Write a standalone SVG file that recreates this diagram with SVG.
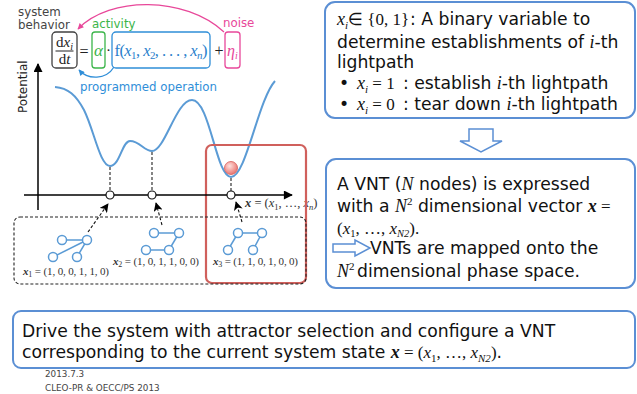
<svg xmlns="http://www.w3.org/2000/svg" width="637" height="394" viewBox="0 0 637 394">
  <style>
    .sans { font-family: "DejaVu Sans", Verdana, sans-serif; }
    .t { font-family: "DejaVu Sans", Verdana, sans-serif; font-size: 17.2px; fill: #111; }
    .lbl { font-family: "DejaVu Sans", Verdana, sans-serif; font-size: 11.8px; }
    .serif { font-family: "Liberation Serif", "Times New Roman", serif; }
    .mi { font-family: "Liberation Serif", "Times New Roman", serif; font-style: italic; }
    .mb { font-family: "Liberation Serif", "Times New Roman", serif; font-style: italic; font-weight: bold; }
    .m { font-family: "Liberation Serif", "Times New Roman", serif; }
    .box { fill: #fff; stroke: #5b8fd4; stroke-width: 2; }
    .hollow { fill: #fff; stroke: #5b8fd4; stroke-width: 1.5; stroke-linejoin: miter; }
    .curve { fill: none; stroke: #5b9bd5; stroke-width: 2; }
    .drop { stroke: #222; stroke-width: 1.1; stroke-dasharray: 3 2; fill: none; }
    .dash-arrow { stroke: #111; stroke-width: 1.1; stroke-dasharray: 3 2; fill: none; }
    .pt { fill: #fff; stroke: #111; stroke-width: 1.2; }
    .gnode { fill: #fff; stroke: #5b9bd5; stroke-width: 1.5; }
    .gedge { stroke: #5b9bd5; stroke-width: 1.5; }
    .vec { font-family: "Liberation Serif", "Times New Roman", serif; font-size: 11px; fill: #333; }
  </style>
  <defs>
    <marker id="ah-black" viewBox="0 0 10 10" refX="9" refY="5" markerWidth="10" markerHeight="9" markerUnits="userSpaceOnUse" orient="auto">
      <path d="M0,0 L10,5 L0,10 L2.5,5 Z" fill="#000"/>
    </marker>
    <marker id="ah-axis" viewBox="0 0 10 10" refX="9" refY="5" markerWidth="11" markerHeight="9" markerUnits="userSpaceOnUse" orient="auto">
      <path d="M0,0 L10,5 L0,10 Z" fill="#000"/>
    </marker>
    <marker id="ah-pink" viewBox="0 0 10 10" refX="9" refY="5" markerWidth="7" markerHeight="6" markerUnits="userSpaceOnUse" orient="auto">
      <path d="M0,0 L10,5 L0,10 Z" fill="#e8489a"/>
    </marker>
    <marker id="ah-blue" viewBox="0 0 10 10" refX="9" refY="5" markerWidth="7" markerHeight="6" markerUnits="userSpaceOnUse" orient="auto">
      <path d="M0,0 L10,5 L0,10 Z" fill="#2f8ed8"/>
    </marker>
    <radialGradient id="ball" cx="0.4" cy="0.35" r="0.7">
      <stop offset="0" stop-color="#fde0de"/>
      <stop offset="0.6" stop-color="#f29a96"/>
      <stop offset="1" stop-color="#e2706c"/>
    </radialGradient>
  </defs>

  <rect width="637" height="394" fill="#fff"/>

  <!-- equation of system behaviour -->
  <g id="equation">
    <text class="lbl" x="18" y="16" fill="#444">system</text>
    <text class="lbl" x="18" y="28.5" fill="#444">behavior</text>
    <text class="lbl" x="92" y="28" fill="#3bb54a">activity</text>
    <text class="lbl" x="223" y="27" fill="#e8489a">noise</text>

    <rect x="52" y="32" width="25" height="36" rx="4" fill="none" stroke="#404040" stroke-width="1.3"/>
    <text class="m" x="64.5" y="47" font-size="15" text-anchor="middle" fill="#222">d<tspan class="mi">x</tspan><tspan class="mi" font-size="10" dy="3">i</tspan></text>
    <line x1="55.5" y1="51" x2="73.5" y2="51" stroke="#222" stroke-width="1"/>
    <text class="m" x="64.5" y="64" font-size="15" text-anchor="middle" fill="#222">d<tspan class="mi">t</tspan></text>

    <text class="m" x="84" y="57" font-size="16" text-anchor="middle" fill="#222">=</text>

    <rect x="92" y="32" width="13" height="36" rx="3" fill="none" stroke="#3bb54a" stroke-width="1.3"/>
    <text class="mi" x="98.5" y="56" font-size="17" text-anchor="middle" fill="#3bb54a">α</text>

    <text class="m" x="108.5" y="55" font-size="15" text-anchor="middle" fill="#222">·</text>

    <rect x="112" y="32" width="98" height="36" rx="4" fill="none" stroke="#2f8ed8" stroke-width="1.3"/>
    <text class="m" x="114.5" y="56" font-size="16.5" fill="#2a80cc" textLength="93" lengthAdjust="spacing">f(<tspan class="mi">x</tspan><tspan font-size="11" dy="3">1</tspan><tspan dy="-3">, </tspan><tspan class="mi">x</tspan><tspan font-size="11" dy="3">2</tspan><tspan dy="-3">, . . . , </tspan><tspan class="mi">x</tspan><tspan class="mi" font-size="11" dy="3">n</tspan><tspan dy="-3">)</tspan></text>

    <text class="m" x="219" y="56" font-size="16" text-anchor="middle" fill="#222">+</text>

    <rect x="225" y="32" width="15" height="36" rx="3" fill="none" stroke="#e8489a" stroke-width="1.3"/>
    <text class="mi" x="227" y="56" font-size="16" fill="#e8489a">η<tspan font-size="10" dy="3">i</tspan></text>

    <text class="lbl" x="80" y="91" fill="#2f8ed8">programmed operation</text>
  </g>

  <!-- potential landscape -->
  <g id="landscape">
    <text class="sans" font-size="12" fill="#222" transform="translate(26.5,113) rotate(-90)">Potential</text>
    <path d="M55,87 C68,88 76,95 84,110 C94,130 100,166 110,166 C120,166 122,141 130,141 C140,141 144,151 152,151 C165,151 176,100 192,100 C210,100 216,177 231,177 C246,177 258,100 275,81" class="curve"/>
    <line x1="110" y1="167" x2="110" y2="191" class="drop"/>
    <line x1="152" y1="152" x2="152" y2="191" class="drop"/>
    <line x1="231" y1="178" x2="231" y2="191" class="drop"/>
    <circle cx="231" cy="168" r="6.5" fill="url(#ball)" stroke="#d65c58" stroke-width="0.8"/>
    <text class="serif" x="245" y="207" font-size="12.5" fill="#333"><tspan class="mb">x</tspan> = (<tspan class="mi">x</tspan><tspan font-size="8.5" dy="2.5">1</tspan><tspan dy="-2.5">, …, </tspan><tspan class="mi">x</tspan><tspan class="mi" font-size="8.5" dy="2.5">n</tspan><tspan dy="-2.5">)</tspan></text>
  </g>

  <!-- selected attractor frame -->
  <g id="attractor-frame">
    <rect x="206" y="145" width="100" height="138" rx="6" fill="none" stroke="#d0605c" stroke-width="2.2"/>
  </g>

  <!-- network topologies -->
  <g id="topologies">
    <rect x="14" y="217" width="292" height="67" rx="6" fill="none" stroke="#222" stroke-width="1.1" stroke-dasharray="3 2"/>
  </g>

  <g id="vnt1">
    <line class="gedge" x1="62" y1="240" x2="87" y2="240"/>
    <line class="gedge" x1="87" y1="240" x2="53" y2="257"/>
    <line class="gedge" x1="87" y1="240" x2="77" y2="257"/>
    <circle class="gnode" cx="62" cy="240" r="4.5"/>
    <circle class="gnode" cx="87" cy="240" r="4.5"/>
    <circle class="gnode" cx="53" cy="257" r="4.5"/>
    <circle class="gnode" cx="77" cy="257" r="4.5"/>
    <text class="vec" x="23" y="275" textLength="86" lengthAdjust="spacing"><tspan class="mb">x</tspan><tspan font-size="8" dy="2">1</tspan><tspan dy="-2"> = (1, 0, 0, 1, 1, 0)</tspan></text>
  </g>

  <g id="vnt2">
    <line class="gedge" x1="154" y1="233" x2="179" y2="233"/>
    <line class="gedge" x1="179" y1="233" x2="169" y2="250"/>
    <line class="gedge" x1="146" y1="250" x2="169" y2="250"/>
    <circle class="gnode" cx="154" cy="233" r="4.5"/>
    <circle class="gnode" cx="179" cy="233" r="4.5"/>
    <circle class="gnode" cx="146" cy="250" r="4.5"/>
    <circle class="gnode" cx="169" cy="250" r="4.5"/>
    <text class="vec" x="113" y="265" textLength="86" lengthAdjust="spacing"><tspan class="mb">x</tspan><tspan font-size="8" dy="2">2</tspan><tspan dy="-2"> = (1, 0, 1, 1, 0, 0)</tspan></text>
  </g>

  <g id="vnt3">
    <line class="gedge" x1="238" y1="233" x2="262" y2="233"/>
    <line class="gedge" x1="238" y1="233" x2="228" y2="250"/>
    <line class="gedge" x1="262" y1="233" x2="253" y2="250"/>
    <circle class="gnode" cx="238" cy="233" r="4.5"/>
    <circle class="gnode" cx="262" cy="233" r="4.5"/>
    <circle class="gnode" cx="228" cy="250" r="4.5"/>
    <circle class="gnode" cx="253" cy="250" r="4.5"/>
    <text class="vec" x="213" y="265" textLength="85" lengthAdjust="spacing"><tspan class="mb">x</tspan><tspan font-size="8" dy="2">3</tspan><tspan dy="-2"> = (1, 1, 0, 1, 0, 0)</tspan></text>
  </g>

  <!-- binary variable definition -->
  <g id="definition">
    <rect class="box" x="325" y="2" width="310" height="116" rx="10"/>
    <text class="t" x="337" y="25"><tspan class="mi" font-size="18">x</tspan><tspan class="mi" font-size="11" dy="4">i</tspan><tspan dy="-4">∈</tspan><tspan class="m" font-size="17"> {0, 1}</tspan></text>
    <text class="t" x="410" y="25">: A binary variable to</text>
    <text class="t" x="337" y="48">determine establishments of <tspan class="mi" font-size="18">i</tspan>-th</text>
    <text class="t" x="337" y="68">lightpath</text>
    <text class="t" x="339" y="89">•</text>
    <text class="t" x="357" y="89"><tspan class="mi" font-size="18">x</tspan><tspan class="mi" font-size="11" dy="4">i</tspan><tspan class="m" font-size="17" dy="-4"> = 1</tspan></text>
    <text class="t" x="403" y="89">: establish <tspan class="mi" font-size="18">i</tspan>-th lightpath</text>
    <text class="t" x="339" y="110">•</text>
    <text class="t" x="357" y="110"><tspan class="mi" font-size="18">x</tspan><tspan class="mi" font-size="11" dy="4">i</tspan><tspan class="m" font-size="17" dy="-4"> = 0</tspan></text>
    <text class="t" x="403" y="110">: tear down <tspan class="mi" font-size="18">i</tspan>-th lightpath</text>
  </g>

  <!-- phase space mapping -->
  <g id="mapping">
    <rect class="box" x="326" y="159" width="309" height="129" rx="10"/>
    <text class="t" x="337" y="190">A VNT (<tspan class="mi" font-size="18">N</tspan> nodes) is expressed</text>
    <text class="t" x="337" y="212">with a <tspan class="mi" font-size="18">N</tspan><tspan class="m" font-size="11" dy="-7">2</tspan><tspan dy="7"> dimensional vector </tspan><tspan class="mb" font-size="18">x</tspan><tspan class="m" font-size="17"> =</tspan></text>
    <text class="m" x="337" y="234" font-size="17" fill="#111">(<tspan class="mi">x</tspan><tspan font-size="10.5" dy="3">1</tspan><tspan dy="-3">, …, </tspan><tspan class="mi">x</tspan><tspan class="mi" font-size="10.5" dy="3">N2</tspan><tspan dy="-3">).</tspan></text>
    <polygon class="hollow" points="333,244 355,244 355,240 370,248 355,256 355,252 333,252"/>
    <text class="t" x="370" y="254">VNTs are mapped onto the</text>
    <text class="t" x="337" y="277"><tspan class="mi" font-size="18">N</tspan><tspan class="m" font-size="11" dy="-7">2</tspan></text>
    <text class="t" x="357" y="277">dimensional phase space.</text>
  </g>

  <!-- conclusion -->
  <g id="conclusion">
    <rect class="box" x="13" y="311" width="622" height="57" rx="8"/>
    <text class="t" x="22" y="337">Drive the system with attractor selection and configure a VNT</text>
    <text class="t" x="22" y="358">corresponding to the current system state <tspan class="mb" font-size="18">x</tspan><tspan class="m" font-size="17"> = (</tspan><tspan class="mi" font-size="17">x</tspan><tspan class="m" font-size="11" dy="4">1</tspan><tspan class="m" font-size="17" dy="-4">, …, </tspan><tspan class="mi" font-size="17">x</tspan><tspan class="mi" font-size="11" dy="4">N2</tspan><tspan class="m" font-size="17" dy="-4">)</tspan>.</text>
  </g>

  <g id="footer" class="sans" font-size="8.8" fill="#444">
    <text x="45" y="377">2013.7.3</text>
    <text x="45" y="391">CLEO-PR &amp; OECC/PS 2013</text>
  </g>

  <!-- connectors -->
  <g id="connectors">
    <path d="M224,32 C185,-4 110,-4 78,29" fill="none" stroke="#e8489a" stroke-width="1.3" marker-end="url(#ah-pink)"/>
    <path d="M114,67 C106,80 88,80 79,70" fill="none" stroke="#2f8ed8" stroke-width="1.3" marker-end="url(#ah-blue)"/>
    <line x1="38" y1="210" x2="38" y2="64" stroke="#000" stroke-width="1.5" marker-end="url(#ah-axis)"/>
    <line x1="24" y1="195" x2="292" y2="195" stroke="#000" stroke-width="1.5" marker-end="url(#ah-axis)"/>
    <circle class="pt" cx="110" cy="195" r="4"/>
    <circle class="pt" cx="152" cy="195" r="4"/>
    <circle class="pt" cx="231" cy="195" r="4"/>
    <line class="dash-arrow" x1="88" y1="232" x2="108" y2="204" marker-end="url(#ah-black)"/>
    <line class="dash-arrow" x1="162" y1="225" x2="156" y2="203" marker-end="url(#ah-black)"/>
    <line class="dash-arrow" x1="242" y1="222" x2="236" y2="202" marker-end="url(#ah-black)"/>
    <polygon class="hollow" points="469,129 493,129 493,141 502,141 481,152 460,141 469,141"/>
  </g>
</svg>
